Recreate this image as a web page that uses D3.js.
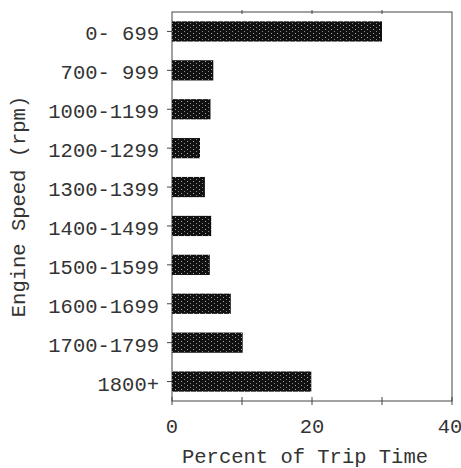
<!DOCTYPE html>
<html>
<head>
<meta charset="utf-8">
<script src="https://cdn.jsdelivr.net/npm/d3@7"></script>
<style>
  body { margin: 0; background: #fff; }
  text { font-family: "Liberation Mono", "Courier New", monospace; fill: #333; white-space: pre; }
</style>
</head>
<body>
<div id="chart"></div>
<script>
// engine speed bins and share of trip time (%)
const speedBins = ["0- 699", "700- 999", "1000-1199", "1200-1299", "1300-1399",
                   "1400-1499", "1500-1599", "1600-1699", "1700-1799", "1800+"];
const tripPercent = [30.0, 5.9, 5.5, 4.0, 4.7, 5.6, 5.4, 8.4, 10.1, 19.9];
const xTicks = [0, 20, 40];
const xMinorTicks = [0, 10, 20, 30, 40];

const width = 461, height = 468;
const margin = {top: 12, right: 9, bottom: 67, left: 172};
const charW = 12.3;

const svg = d3.select("#chart").append("svg")
    .attr("width", width).attr("height", height);

// dithered dark fill like the scanned print
const defs = svg.append("defs");
const pat = defs.append("pattern")
    .attr("id", "dots").attr("patternUnits", "userSpaceOnUse")
    .attr("width", 6).attr("height", 4);
pat.append("rect").attr("width", 6).attr("height", 4).attr("fill", "#111");
pat.append("rect").attr("x", 1).attr("y", 1).attr("width", 1).attr("height", 1).attr("fill", "#aaa");
pat.append("rect").attr("x", 4).attr("y", 3).attr("width", 1).attr("height", 1).attr("fill", "#888");

const x = d3.scaleLinear().domain([0, 40]).range([margin.left, width - margin.right]);
const y = d3.scaleBand().domain(speedBins)
    .range([margin.top, height - margin.bottom]).paddingInner(0.48).paddingOuter(0.24);

const x0 = x.range()[0], x1 = x.range()[1];
const y0 = margin.top, y1 = height - margin.bottom;

// frame
svg.append("rect")
    .attr("x", x0).attr("y", y0).attr("width", x1 - x0).attr("height", y1 - y0)
    .attr("fill", "none").attr("stroke", "#444").attr("stroke-width", 1);

// bars
svg.selectAll("rect.bar")
    .data(speedBins)
    .enter().append("rect")
    .attr("class", "bar")
    .attr("x", x0)
    .attr("y", d => y(d))
    .attr("width", (d, i) => x(tripPercent[i]) - x0)
    .attr("height", y.bandwidth())
    .attr("fill", "url(#dots)");

// x ticks crossing the bottom axis, small ones on top
svg.selectAll("line.xt")
    .data(xMinorTicks)
    .enter().append("line")
    .attr("x1", d => x(d)).attr("x2", d => x(d))
    .attr("y1", y1 - 4).attr("y2", y1 + 4)
    .attr("stroke", "#444");
svg.selectAll("line.xtt")
    .data(xMinorTicks.slice(1, -1))
    .enter().append("line")
    .attr("x1", d => x(d)).attr("x2", d => x(d))
    .attr("y1", y0 - 2).attr("y2", y0 + 2)
    .attr("stroke", "#444");

svg.selectAll("text.xl")
    .data(xTicks)
    .enter().append("text")
    .attr("x", d => d === 40 ? x(d) - 2 : x(d))
    .attr("y", 433)
    .attr("text-anchor", "middle")
    .style("font-size", "20px")
    .attr("textLength", d => String(d).length * charW)
    .attr("lengthAdjust", "spacingAndGlyphs")
    .text(d => d);

// y ticks and labels
svg.selectAll("line.yt")
    .data(speedBins)
    .enter().append("line")
    .attr("x1", x0 - 5).attr("x2", x0)
    .attr("y1", d => y(d) + y.bandwidth() / 2)
    .attr("y2", d => y(d) + y.bandwidth() / 2)
    .attr("stroke", "#444");

svg.selectAll("text.yl")
    .data(speedBins)
    .enter().append("text")
    .attr("x", 159)
    .attr("y", d => y(d) + y.bandwidth() / 2 + 9)
    .attr("text-anchor", "end")
    .style("font-size", "20px")
    .attr("textLength", d => d.length * charW)
    .attr("lengthAdjust", "spacingAndGlyphs")
    .text(d => d);

// axis titles
const xTitle = "Percent of Trip Time";
svg.append("text")
    .attr("x", 305).attr("y", 463)
    .attr("text-anchor", "middle")
    .style("font-size", "20px")
    .attr("textLength", xTitle.length * charW)
    .attr("lengthAdjust", "spacingAndGlyphs")
    .text(xTitle);

const yTitle = "Engine Speed (rpm)";
svg.append("text")
    .attr("transform", `translate(25, ${(y0 + y1) / 2}) rotate(-90)`)
    .attr("text-anchor", "middle")
    .style("font-size", "20px")
    .attr("textLength", yTitle.length * charW)
    .attr("lengthAdjust", "spacingAndGlyphs")
    .text(yTitle);
</script>
</body>
</html>
